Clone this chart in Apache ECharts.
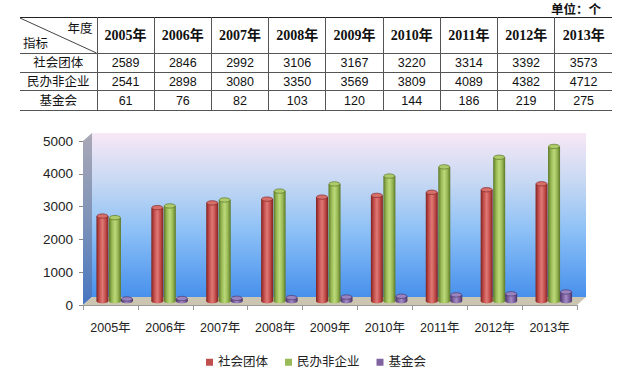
<!DOCTYPE html>
<html>
<head>
<meta charset="utf-8">
<script src="https://cdn.jsdelivr.net/npm/echarts@6/dist/echarts.min.js"></script>
<style>
html,body{margin:0;padding:0;background:#fff;}
#wrap{position:relative;width:632px;height:375px;overflow:hidden;}
#chart{position:absolute;left:0;top:0;width:632px;height:375px;}
#unit{position:absolute;right:31px;top:1px;font:bold 12.5px "Noto Sans CJK SC","Liberation Sans";color:#111;line-height:15px;}
#tbl{position:absolute;left:20px;top:17px;width:592px;border-collapse:collapse;table-layout:fixed;
  font-family:"Liberation Sans","Noto Sans CJK SC";font-size:12.5px;color:#111;z-index:2;}
#tbl td{border:1px solid #555;padding:0;text-align:center;line-height:14px;}
#tbl tr td:first-child{border-left:none;}
#tbl tr td:last-child{border-right:none;}
#tbl tr.hd td{border-top:1.5px solid #222;height:35px;}
#tbl tr.hd td.yr{font-family:"Liberation Serif","Noto Sans CJK SC";font-weight:bold;font-size:14px;}
#tbl td.corner{position:relative;}
#tbl td.corner svg{position:absolute;left:0;top:0;width:100%;height:100%;}
#tbl td.corner .tr{position:absolute;right:4px;top:4px;}
#tbl td.corner .bl{position:absolute;left:3px;bottom:2px;}
</style>
</head>
<body>
<div id="wrap">
  <div id="chart"></div>
  <div id="unit">单位：个</div>
  <table id="tbl"></table>
</div>
<script>
// ---- data ----
const years = ['2005年','2006年','2007年','2008年','2009年','2010年','2011年','2012年','2013年'];
const seriesNames = ['社会团体','民办非企业','基金会'];
const sheTuan = [2589,2846,2992,3106,3167,3220,3314,3392,3573];
const minBan  = [2541,2898,3080,3350,3569,3809,4089,4382,4712];
const jiJin   = [61,76,82,103,120,144,186,219,275];
const yMin = 0, yMax = 5000, yStep = 1000;
const headerTop = '年度', headerLeft = '指标';

// ---- table ----
(function(){
  const tbl = document.getElementById('tbl');
  let html = '<colgroup><col style="width:77px">' + years.map(()=>'<col>').join('') + '</colgroup>';
  html += '<tr class="hd"><td class="corner"><svg preserveAspectRatio="none" viewBox="0 0 100 100"><line x1="0" y1="0" x2="100" y2="100" stroke="#444" stroke-width="1" vector-effect="non-scaling-stroke"/></svg><span class="tr">'+headerTop+'</span><span class="bl">'+headerLeft+'</span></td>';
  html += years.map(y=>'<td class="yr">'+y+'</td>').join('') + '</tr>';
  const rows = [sheTuan, minBan, jiJin];
  const hts = [18,17,19];
  rows.forEach((r,i)=>{
    html += '<tr><td style="height:'+hts[i]+'px">'+seriesNames[i]+'</td>' + r.map(v=>'<td>'+v+'</td>').join('') + '</tr>';
  });
  tbl.innerHTML = html;
})();

// ---- chart ----
const FRONT = {left:83, top:141, width:494, height:164};
const DX = 9, DY = -8;
const BAR = {left:FRONT.left+DX/2, top:FRONT.top+DY/2, width:FRONT.width, height:FRONT.height};
const BACK = {left:FRONT.left+DX, top:FRONT.top+DY, width:FRONT.width, height:FRONT.height};
const font = '"Liberation Sans","Noto Sans CJK SC"';

const palettes = [
  {base:'#c0504d', stops:['#7e2220','#c44e4b','#de7a76','#c44e4b','#7e2220'], top:'#d66e6a', edge:'#8a2a28'},
  {base:'#9bbb59', stops:['#5b7826','#98b955','#bcd97a','#98b955','#5b7826'], top:'#aecb6c', edge:'#5d7a2a'},
  {base:'#8064a2', stops:['#4a3468','#7d61a0','#a38cc6','#7d61a0','#4a3468'], top:'#9a84c0', edge:'#4e3a6e'}
];
const offsets = [-12.5, 0, 12];
const BW = 12;

function cylinder(k){
  const p = palettes[k];
  return function(params, api){
    const base = api.coord([api.value(0), 0]);
    const top = api.coord([api.value(0), api.value(1)]);
    const cx = base[0] + offsets[k];
    const grad = new echarts.graphic.LinearGradient(0,0,1,0, p.stops.map((c,i)=>({offset:i/(p.stops.length-1), color:c})));
    return {type:'group', children:[
      {type:'circle', x:cx, y:base[1], scaleY:0.4, shape:{cx:0,cy:0,r:BW/2}, style:{fill:grad}},
      {type:'rect', shape:{x:cx-BW/2, y:top[1], width:BW, height:base[1]-top[1]}, style:{fill:grad}},
      {type:'circle', x:cx, y:top[1], scaleY:0.4, shape:{cx:0,cy:0,r:BW/2-0.5}, style:{fill:p.top, stroke:p.edge, lineWidth:1}}
    ]};
  };
}

const chart = echarts.init(document.getElementById('chart'), null, {renderer:'svg'});
const allData = [sheTuan, minBan, jiJin];

const fl = FRONT.left, ft = FRONT.top, fb = FRONT.top+FRONT.height, fr = FRONT.left+FRONT.width;
const option = {
  backgroundColor:'#fff',
  animation:false,
  graphic:[
    {type:'rect', z:-10, shape:{x:BACK.left, y:BACK.top, width:BACK.width, height:BACK.height},
     style:{fill:new echarts.graphic.LinearGradient(0,0,0,1,[
       {offset:0,color:'#f8e8f6'},{offset:0.3,color:'#c6d8f3'},{offset:0.6,color:'#8cc0f6'},{offset:1,color:'#4790ec'}])}},
    {type:'polygon', z:-10, shape:{points:[[fl,ft],[fl+DX,ft+DY],[fl+DX,fb+DY],[fl,fb]]},
     style:{fill:new echarts.graphic.LinearGradient(0,0,0,1,[
       {offset:0,color:'#a9a9b6'},{offset:0.5,color:'#7f93b8'},{offset:1,color:'#4676c2'}])}},
    {type:'polygon', z:-10, shape:{points:[[fl,fb],[fl+DX,fb+DY],[fr+DX,fb+DY],[fr,fb]]},
     style:{fill:'#cbc5b2'}}
  ],
  legend:{
    data:seriesNames, left:'center', top:351, icon:'rect', itemWidth:7, itemHeight:7, itemGap:17,
    textStyle:{fontSize:12.5, color:'#222', fontFamily:font}
  },
  grid:[
    {left:FRONT.left, top:FRONT.top, width:FRONT.width, height:FRONT.height},
    {left:BAR.left, top:BAR.top, width:BAR.width, height:BAR.height}
  ],
  xAxis:[
    {type:'category', gridIndex:0, data:years, boundaryGap:true,
     axisLine:{show:true, lineStyle:{color:'#999'}},
     axisTick:{show:true, length:5, interval:0, lineStyle:{color:'#999'}},
     axisLabel:{fontSize:12.5, color:'#222', margin:17, interval:0, fontFamily:font},
     splitLine:{show:false}},
    {type:'category', gridIndex:1, data:years, boundaryGap:true, show:false}
  ],
  yAxis:[
    {type:'value', gridIndex:0, min:yMin, max:yMax, interval:yStep,
     axisLine:{show:false}, axisTick:{show:true, length:4, lineStyle:{color:'#888'}},
     axisLabel:{fontSize:13.5, color:'#222', margin:10, fontFamily:font, formatter:v=>String(v)},
     splitLine:{show:false}},
    {type:'value', gridIndex:1, min:yMin, max:yMax, interval:yStep, show:false, splitLine:{show:false}}
  ],
  series: seriesNames.map((n,k)=>({
    name:n, type:'custom', xAxisIndex:1, yAxisIndex:1, z:5,
    itemStyle:{color:palettes[k].base},
    encode:{x:0, y:1},
    data: allData[k].map((v,i)=>[i,v]),
    renderItem: cylinder(k)
  }))
};
chart.setOption(option);
</script>
</body>
</html>
